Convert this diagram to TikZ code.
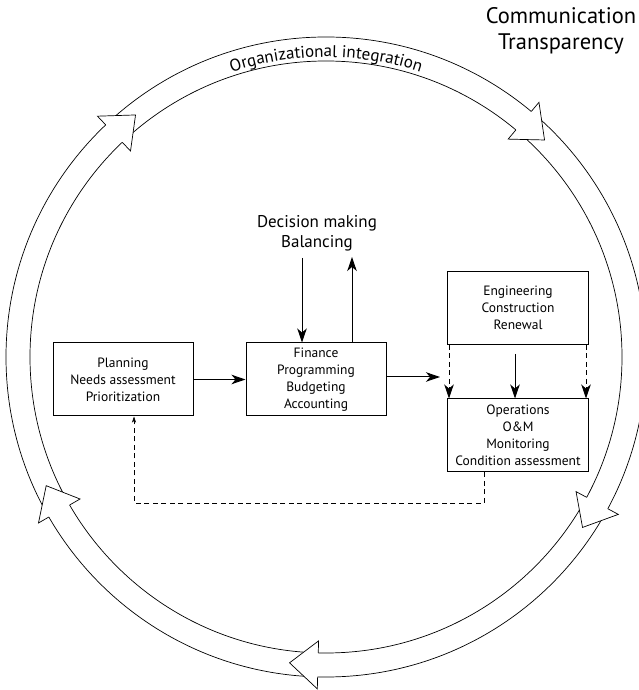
\documentclass[tikz,border=0pt]{standalone}
\usepackage{fontspec}
\setmainfont{PT Sans}
\usetikzlibrary{arrows.meta,decorations.text}
\begin{document}
\begin{tikzpicture}[x=1pt,y=1pt,
  box/.style={draw, line width=1pt, minimum width=141pt, minimum height=73pt, align=center, inner sep=0pt, font=\fontsize{13.5}{17}\selectfont},
  conn/.style={line width=1pt, -{Stealth[length=14pt,width=9.5pt,inset=4pt]}},
  dconn/.style={conn, dash pattern=on 5pt off 3.5pt},
  fb/.style={line width=0.7pt, dash pattern=on 5pt off 3.5pt, -{Stealth[length=6pt,width=4pt,inset=1.5pt]}},
  ring/.style={line width=0.7pt},
  lbl/.style={align=center, inner sep=0pt}
]
\useasboundingbox (0,0) rectangle (638,690);

% ring
\begin{scope}[shift={(326,333)}]
  \draw[ring] (0,0) circle[radius=320];
  \draw[ring] (0,0) circle[radius=296];
  \foreach \b in {133.5,50.1,-28.3,-91.5,210}{
    \fill[white] (\b:296) -- (\b:284) -- ({\b-5.3}:308) -- (\b:332) -- (\b:320) -- cycle;
    \draw[ring, line join=miter] (\b:296) -- (\b:284) -- ({\b-5.3}:308) -- (\b:332) -- (\b:320);
  }
  \path[decorate, decoration={text along path, text align=center,
     text={|\fontsize{17}{20}\selectfont|Organizational integration}}]
     (120:300) arc[start angle=120, end angle=60, radius=300];
\end{scope}

% texts
\node[lbl, font=\fontsize{22.5}{26}\selectfont] (comm) at (561,659) {Communication\\Transparency};
\node[lbl, font=\fontsize{17}{20}\selectfont] (dec) at (317,457) {Decision making\\Balancing};

% boxes
\node[box, minimum width=140pt] (plan) at (123,310.5) {Planning\\Needs assessment\\Prioritization};
\node[box, minimum width=140pt] (fin) at (316,310.5) {Finance\\Programming\\Budgeting\\Accounting};
\node[box] (eng) at (518,382) {Engineering\\Construction\\Renewal};
\node[box] (ops) at (518,254.5) {Operations\\O\&M\\Monitoring\\Condition assessment};

% connectors
\coordinate (dtop) at (302,432);
\coordinate (utop) at (352,433);
\coordinate (fo) at (440,313);
\coordinate (eo) at (515,336);
\coordinate (fbc) at (484,187);
\coordinate (fbl) at (134,187);
\draw[conn] (plan.east) -- (fin.west);
\draw[conn] (dtop) -- (dtop |- fin.north);
\draw[conn] (utop |- fin.north) -- (utop);
\draw[conn] (fin.east |- fo) -- (fo);
\draw[conn] (eo) -- (eo |- ops.north);
\draw[dconn] (449,0 |- eng.south) -- (449,0 |- ops.north);
\draw[dconn] (586,0 |- eng.south) -- (586,0 |- ops.north);
\draw[fb] (fbc |- ops.south) -- (fbc) -- (fbl) -- (fbl |- plan.south);
\end{tikzpicture}
\end{document}
